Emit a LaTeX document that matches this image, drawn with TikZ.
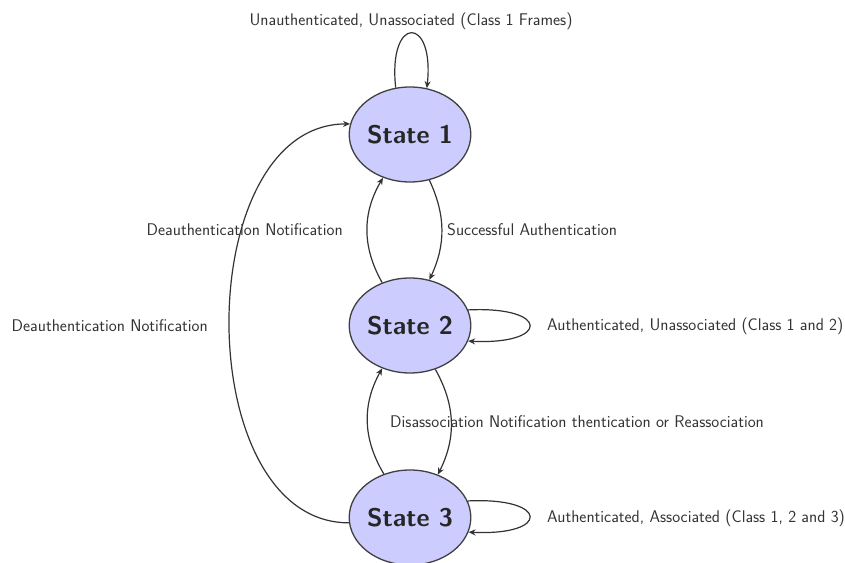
\documentclass[tikz,border=0pt]{standalone}
\usepackage{fontspec}
\usetikzlibrary{arrows.meta,shapes.geometric}
\begin{document}
\begin{tikzpicture}[x=1pt,y=1pt,
  statenode/.style={ellipse, draw=black!75, line width=1.3pt, fill=blue!20,
    minimum width=106pt, minimum height=95pt, inner sep=0pt,
    font=\sffamily\bfseries\fontsize{25.5}{30}\selectfont, text=black!85},
  lbl/.style={inner sep=0pt, font=\sffamily\fontsize{16.9}{20}\selectfont, text=black!80},
  edgeline/.style={draw=black!80, line width=1.2pt, -{Stealth[length=7pt,width=6pt]}}]
\useasboundingbox (0,0) rectangle (845,562);
\node[statenode] (s1) at (410,427.5) {State 1};
\node[statenode] (s2) at (410,236.5) {State 2};
\node[statenode] (s3) at (410,44.5) {State 3};
% loops
\draw[edgeline] (s1.107) .. controls +(-8,73) and +(8,73) .. (s1.70);
\draw[edgeline] (s2.15) .. controls +(82,4) and +(82,-4) .. (s2.-15);
\draw[edgeline] (s3.16) .. controls +(82,4) and +(82,-4) .. (s3.-14);
% vertical arcs
\draw[edgeline] (s1.-67) to[bend left=25] (s2.67);
\draw[edgeline] (s2.123) to[bend left=30] (s1.-122);
\draw[edgeline] (s2.-60) to[bend left=28] (s3.57);
\draw[edgeline] (s3.121) to[bend left=30] (s2.-123);
% big arc
\draw[edgeline] (s3.185) .. controls +(-160,0) and +(-160,0) .. (s1.170);
% labels
\node[lbl] (l1) at (411,541) {Unauthenticated, Unassociated (Class 1 Frames)};
\node[lbl, anchor=west] (l2) at (447,332) {Successful Authentication};
\node[lbl, anchor=east] (l3) at (343,332) {Deauthentication Notification};
\node[lbl, anchor=east] (l4) at (208,236) {Deauthentication Notification};
\node[lbl, anchor=west] (l5) at (547,236) {Authenticated, Unassociated (Class 1 and 2)};
\node[lbl, anchor=west] (l6) at (390,140) {Disassociation Notification thentication or Reassociation};
\node[lbl, anchor=west] (l7) at (547,44) {Authenticated, Associated (Class 1, 2 and 3)};
\end{tikzpicture}
\end{document}
